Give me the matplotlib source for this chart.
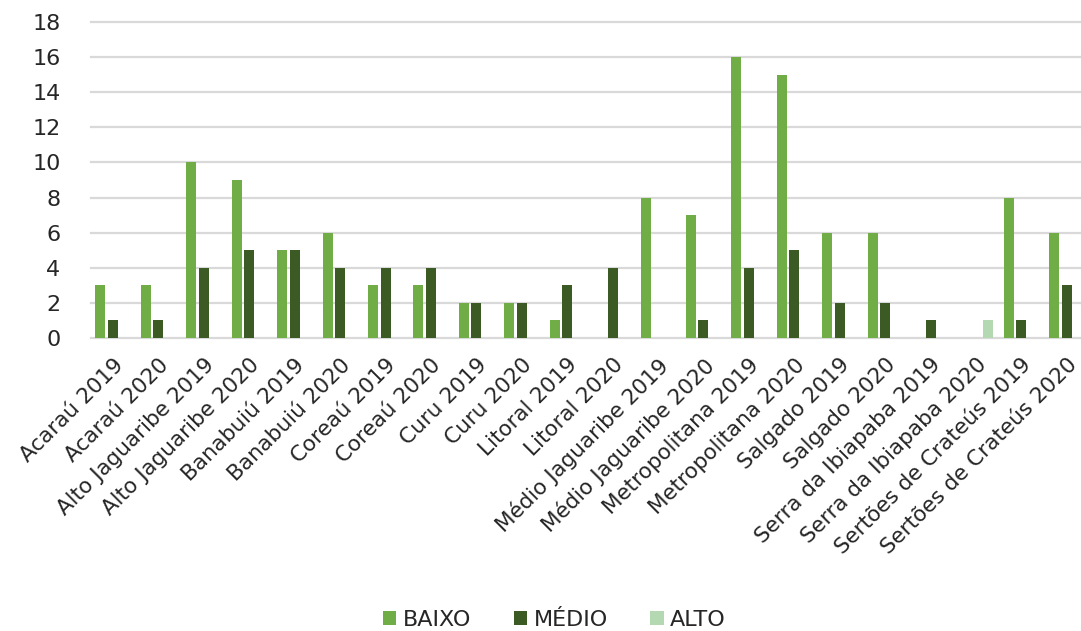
import matplotlib
matplotlib.use("Agg")
import matplotlib.pyplot as plt
import numpy as np

categorias = ["Acaraú 2019", "Acaraú 2020", "Alto Jaguaribe 2019", "Alto Jaguaribe 2020",
              "Banabuiú 2019", "Banabuiú 2020", "Coreaú 2019", "Coreaú 2020",
              "Curu 2019", "Curu 2020", "Litoral 2019", "Litoral 2020",
              "Médio Jaguaribe 2019", "Médio Jaguaribe 2020", "Metropolitana 2019",
              "Metropolitana 2020", "Salgado 2019", "Salgado 2020",
              "Serra da Ibiapaba 2019", "Serra da Ibiapaba 2020",
              "Sertões de Crateús 2019", "Sertões de Crateús 2020"]
baixo = [3, 3, 10, 9, 5, 6, 3, 3, 2, 2, 1, 0, 8, 7, 16, 15, 6, 6, 0, 0, 8, 6]
medio = [1, 1, 4, 5, 5, 4, 4, 4, 2, 2, 3, 4, 0, 1, 4, 5, 2, 2, 1, 0, 1, 3]
alto = [0, 0, 0, 0, 0, 0, 0, 0, 0, 0, 0, 0, 0, 0, 0, 0, 0, 0, 0, 1, 0, 0]

plt.rcParams['font.family'] = ['DejaVu Sans']

fig = plt.figure(figsize=(10.81, 6.31), dpi=100)
ax = fig.add_axes([91/1081, 1 - 338/631, (1080 - 91)/1081, (338 - 22)/631])

x = np.arange(len(categorias))
w = 0.22
off = 0.275
ax.bar(x - off, baixo, w, color='#70AD47', label='BAIXO', zorder=3, linewidth=0)
ax.bar(x, medio, w, color='#3B5A24', label='MÉDIO', zorder=3, linewidth=0)
ax.bar(x + off, alto, w, color='#B4D9B2', label='ALTO', zorder=3, linewidth=0)

ax.set_xlim(-0.484, 21.29)
ax.set_ylim(0, 18)
ax.set_yticks(range(0, 19, 2))
ax.yaxis.grid(True, color='#D9D9D9', linewidth=1.6, zorder=0)
for gl in ax.get_ygridlines():
    gl.set_clip_on(False)
ax.set_axisbelow(True)
for s in ax.spines.values():
    s.set_visible(False)
ax.tick_params(axis='y', length=0, labelsize=16, colors='#262626', pad=22)
ax.tick_params(axis='x', length=0, labelsize=15.5, colors='#262626', pad=12)
ax.set_xticks(x)
ax.set_xticklabels(categorias, rotation=45, ha='right', rotation_mode='anchor')

fig.legend(loc='lower center', ncol=3, frameon=False, fontsize=16,
           bbox_to_anchor=(0.513, -0.03), handlelength=0.6, handleheight=0.6,
           handletextpad=0.3, columnspacing=1.9, labelcolor='#262626')

fig.savefig('out.png', dpi=100)
